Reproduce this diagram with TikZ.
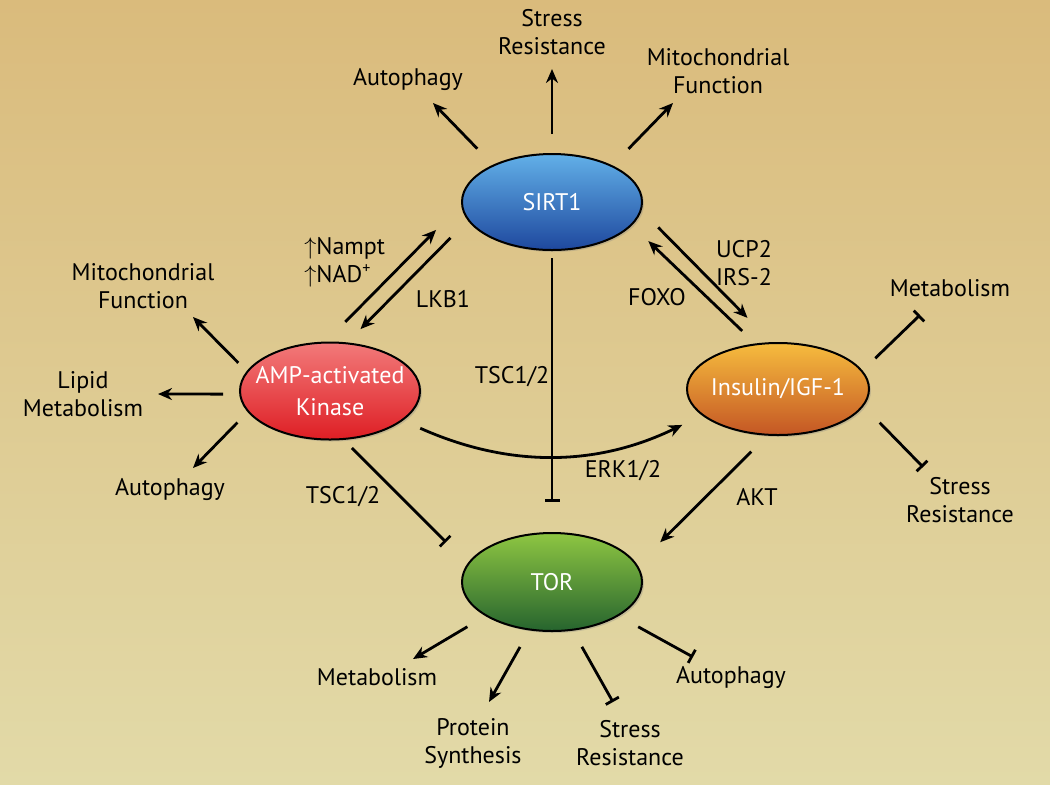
\documentclass[tikz,border=0pt]{standalone}
\usepackage{fontspec}
\setmainfont{PT Sans}
\usetikzlibrary{arrows.meta,shapes.geometric,shadows}
\definecolor{bgtop}{RGB}{218,187,124}
\definecolor{bgmid}{RGB}{222,205,148}
\definecolor{bgbot}{RGB}{226,218,168}
\definecolor{sirttop}{RGB}{98,176,232}
\definecolor{sirtbot}{RGB}{30,72,158}
\definecolor{amptop}{RGB}{242,122,122}
\definecolor{ampbot}{RGB}{222,30,36}
\definecolor{instop}{RGB}{246,188,62}
\definecolor{insbot}{RGB}{196,86,36}
\definecolor{tortop}{RGB}{142,198,66}
\definecolor{torbot}{RGB}{38,100,46}
\begin{document}
\begin{tikzpicture}[x=0.5pt,y=-0.5pt,
	hub/.style={ellipse,draw=black,line width=1pt,inner xsep=-12pt,inner ysep=-4pt,outer sep=0pt,
		minimum width=90pt,minimum height=48pt,text=white,align=center,
		font=\fontsize{12}{16}\selectfont,
		drop shadow={opacity=0.3,shadow xshift=1pt,shadow yshift=-1pt}},
	lbl/.style={font=\fontsize{12}{14}\selectfont,align=center,inner sep=1pt},
	act/.style={line width=1.4pt,-{Stealth[length=7pt,width=6pt]}},
	inh/.style={line width=1.4pt,-{Bar[width=7.5pt]}}]
		\useasboundingbox (0,0) rectangle (1050,784);
		\fill [top color=bgtop,middle color=bgmid,bottom color=bgbot] (0,0) rectangle (1050,784);
		% the four hubs
		\node[hub,top color=sirttop,bottom color=sirtbot] (sirt) at (552,202) {SIRT1};
		\node[hub,top color=amptop,bottom color=ampbot,minimum height=48.5pt] (ampk) at (330,391) {AMP-activated\\Kinase};
		\node[hub,top color=instop,bottom color=insbot,minimum width=91pt,minimum height=46pt] (ins) at (778,389) {Insulin/IGF-1};
		\node[hub,top color=tortop,bottom color=torbot,minimum height=49pt] (tor) at (552,582) {TOR};
		% outputs
		\node[lbl] (sStress) at (552,32) {Stress\\Resistance};
		\node[lbl] (sAuto) at (408,80) {Autophagy};
		\node[lbl] (sMito) at (718,71) {Mitochondrial\\Function};
		\node[lbl] (aMito) at (143,286) {Mitochondrial\\Function};
		\node[lbl] (aLipid) at (83,394) {Lipid\\Metabolism};
		\node[lbl] (aAuto) at (170,489) {Autophagy};
		\node[lbl] (iMeta) at (950,288) {Metabolism};
		\node[lbl] (iStress) at (960,500) {Stress\\Resistance};
		\node[lbl] (tMeta) at (377,677) {Metabolism};
		\node[lbl] (tProt) at (473,743) {Protein\\Synthesis};
		\node[lbl] (tStress) at (630,743) {Stress\\Resistance};
		\node[lbl] (tAuto) at (731,677) {Autophagy};
		% mediators
		\node[lbl,align=left,anchor=west] (nampt) at (302,262) {$\uparrow$Nampt\\$\uparrow$NAD\textsuperscript{+}};
		\node[lbl] (lkb) at (443,299) {LKB1};
		\node[lbl] (ucp) at (744,263) {UCP2\\IRS-2};
		\node[lbl] (foxo) at (657,297) {FOXO};
		\node[lbl] (tscM) at (512,377) {TSC1/2};
		\node[lbl] (tscL) at (343,497) {TSC1/2};
		\node[lbl] (erk) at (623,471) {ERK1/2};
		\node[lbl] (akt) at (757,497) {AKT};
		% arrow tips
		\coordinate (sa) at (433,103);
		\coordinate (ss) at (552,69);
		\coordinate (sm) at (673,103);
		\coordinate (am) at (193,317);
		\coordinate (al) at (158,394);
		\coordinate (aa) at (193,468);
		\coordinate (im) at (920,315);
		\coordinate (is) at (923,467);
		\coordinate (tm) at (413,659);
		\coordinate (tp) at (489,702);
		\coordinate (ts) at (613,702);
		\coordinate (ta) at (693,657);
		\draw[act,shorten <=11.7pt] (sirt.148) -- (sa);
		\draw[act,shorten <=10pt] (sirt.90) -- (ss);
		\draw[act,shorten <=12pt] (sirt.31.4) -- (sm);
		\draw[act,shorten <=6.4pt] (ampk.167) -- (am);
		\draw[act,shorten <=8.5pt] (ampk.182) -- (al);
		\draw[act,shorten <=7.8pt] (ampk.194.5) -- (aa);
		\draw[inh,shorten <=9.3pt] (ins.12.3) -- (im);
		\draw[inh,shorten <=12pt] (ins.-11) -- (is);
		\draw[act,shorten <=11pt] (tor.207) -- (tm);
		\draw[act,shorten <=10pt] (tor.245) -- (tp);
		\draw[inh,shorten <=9.8pt] (tor.293) -- (ts);
		\draw[inh,shorten <=11.7pt] (tor.-27.3) -- (ta);
		% links between hubs
		\draw[act,shorten <=14.5pt,shorten >=18.5pt] (ampk.96.5) -- (sirt.181.8);
		\draw[act,shorten <=12.7pt,shorten >=10pt] (sirt.192.2) -- (ampk.71.6);
		\draw[act,shorten <=12.4pt,shorten >=17.7pt] (sirt.-5.4) -- (ins.97.4);
		\draw[act,shorten <=9.7pt,shorten >=11.8pt] (ins.116.3) -- (sirt.-16);
		\draw[inh,shorten <=4pt,shorten >=15.5pt] (sirt.south) -- (tor.north);
		\draw[inh,shorten <=6.4pt,shorten >=15.6pt] (ampk.-75) -- (tor.168.6);
		\draw[act,shorten <=12pt,shorten >=16.5pt] (ins.258.8) -- (tor.11.2);
		\draw[act,shorten <=10pt,shorten >=11.4pt] (ampk.-22.3) to[bend right=25] (ins.199.5);
\end{tikzpicture}
\end{document}
